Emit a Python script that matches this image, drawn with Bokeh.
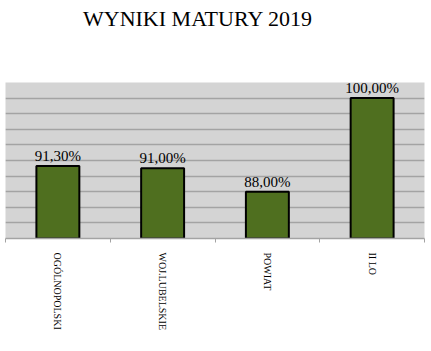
from bokeh.plotting import figure
from bokeh.models import ColumnDataSource, FixedTicker, Range1d, Div
from bokeh.layouts import column
from bokeh.embed import file_html
from bokeh.resources import INLINE
from bokeh.core.properties import value

categories = ["OGÓLNOPOLSKI", "WOJ.LUBELSKIE", "POWIAT", "II LO"]
results = [91.30, 91.00, 88.00, 100.00]
y_ticks = [82, 84, 86, 88, 90, 92, 94, 96, 98, 100, 102]
chart_title = "WYNIKI MATURY 2019"

xs = list(range(len(categories)))
labels = [f"{v:.2f}".replace(".", ",") + "%" for v in results]
src = ColumnDataSource(dict(x=xs, top=results, label=labels))

title_h = 40
title_div = Div(
    text=('<div style="padding-top:8px;padding-left:83px;font-family:\'Liberation Serif\';'
          'font-size:22px;line-height:22px;color:#000;white-space:nowrap;">'
          + chart_title + '</div>'),
    width=431, height=title_h, margin=0)

p = figure(width=431, height=351 - title_h, output_backend="svg", toolbar_location=None,
           x_range=Range1d(-0.5, len(categories) - 0.5),
           y_range=Range1d(82, 102),
           min_border_left=5, min_border_right=7, min_border_top=82 - title_h,
           min_border_bottom=113, margin=0)

p.background_fill_color = "#d4d4d4"
p.border_fill_color = "#ffffff"
p.outline_line_color = None

p.vbar(x="x", top="top", bottom=82, width=0.41, source=src,
       fill_color="#4f6f1f", line_color="#000000", line_width=2)

p.text(x="x", y="top", text="label", source=src, text_align="center",
       text_baseline="bottom", y_offset=-2,
       text_font=value("Liberation Serif"), text_font_size="15px", text_color="#000000")

p.xgrid.visible = False
p.ygrid.ticker = FixedTicker(ticks=y_ticks)
p.ygrid.grid_line_color = "#a3a3a3"
p.ygrid.grid_line_width = 1.5

p.yaxis.visible = False

ax = p.xaxis[0]
ax.ticker = FixedTicker(ticks=xs, minor_ticks=[i - 0.5 for i in range(len(categories) + 1)])
ax.major_label_overrides = {i: c for i, c in zip(xs, categories)}
ax.major_label_orientation = "vertical"
ax.major_label_text_font = "Liberation Serif"
ax.major_label_text_font_size = "10px"
ax.major_label_text_color = "#000000"
ax.major_label_standoff = 10
ax.major_tick_out = 0
ax.major_tick_in = 0
ax.minor_tick_out = 4
ax.minor_tick_in = 0
ax.minor_tick_line_color = "#a3a3a3"
ax.axis_line_color = "#a3a3a3"
ax.axis_line_width = 1.5

layout = column(title_div, p, spacing=0, margin=0)
open("out.html", "w").write(file_html(layout, INLINE))
